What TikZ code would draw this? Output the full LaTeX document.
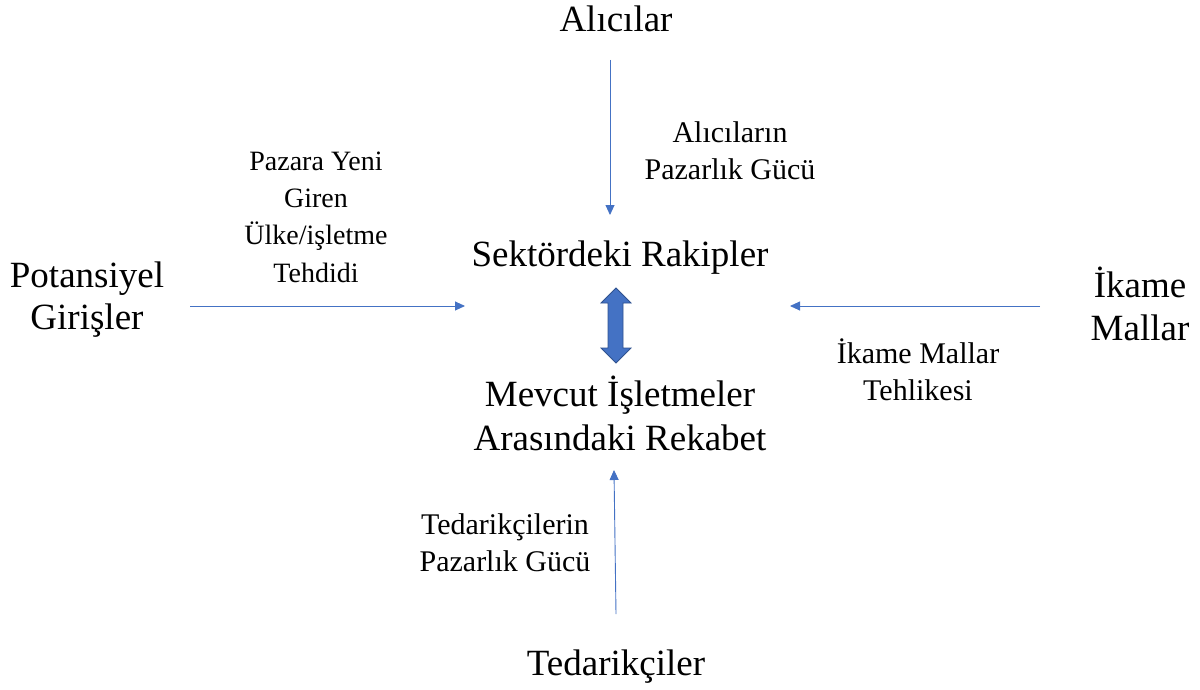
\documentclass[tikz,border=0pt]{standalone}
\usepackage{fontspec}
\setmainfont{Liberation Serif}
\usetikzlibrary{arrows.meta}
\definecolor{arrowblue}{HTML}{4472C4}
\definecolor{arrowedge}{HTML}{2F528F}
\tikzset{
  big/.style={font=\fontsize{37}{43}\selectfont, align=center, inner sep=0pt, anchor=base},
  lbl/.style={font=\fontsize{30}{37}\selectfont, align=center, inner sep=0pt, anchor=base},
  lbls/.style={font=\fontsize{28}{37.3}\selectfont, align=center, inner sep=0pt, anchor=base},
  conn/.style={draw=arrowblue, line width=0.9pt, -{Triangle[length=10pt,width=9pt]}},
  fat/.style={fill=arrowblue, draw=arrowedge, line width=0.8pt, line join=miter}
}
\begin{document}
\begin{tikzpicture}[x=1pt,y=-1pt]
\useasboundingbox (0,0) rectangle (1200,690);
% main texts (base anchor = baseline of the last line)
\node[big] (buyers) at (616,32) {Alıcılar};
\node[big] (rivals) at (620,266) {Sektördeki Rakipler};
\node[big, font=\fontsize{37}{44}\selectfont] (rivalry) at (620,450) {Mevcut İşletmeler\\Arasındaki Rekabet};
\node[big, font=\fontsize{37}{42}\selectfont] (entrants) at (87,329) {Potansiyel\\Girişler};
\node[big] (subs) at (1140,340) {İkame\\Mallar};
\node[big] (suppliers) at (616,675) {Tedarikçiler};
% labels
\node[lbl] (lbuyers) at (730,179) {Alıcıların\\Pazarlık Gücü};
\node[lbls] (lentrants) at (316,282) {Pazara Yeni\\Giren\\Ülke/işletme\\Tehdidi};
\node[lbl] (lsubs) at (918,400) {İkame Mallar\\Tehlikesi};
\node[lbl] (lsuppliers) at (505,571) {Tedarikçilerin\\Pazarlık Gücü};
% connector ends
\coordinate (b1) at (610,60);
\coordinate (b2) at (610,215);
\coordinate (e1) at (190,306);
\coordinate (e2) at (465,306);
\coordinate (s1) at (1040,306);
\coordinate (s2) at (790,306);
\coordinate (t1) at (616,614);
\coordinate (t2) at (614,470);
\draw[conn] (b1) -- (b2);
\draw[conn] (e1) -- (e2);
\draw[conn] (s1) -- (s2);
\draw[conn] (t1) -- (t2);
% double arrow between rivals and rivalry
\draw[fat] (616,288) -- (631,303) -- (623,303) -- (623,348) -- (631,348) -- (616,363)
  -- (601,348) -- (608,348) -- (608,303) -- (601,303) -- cycle;
\end{tikzpicture}
\end{document}
